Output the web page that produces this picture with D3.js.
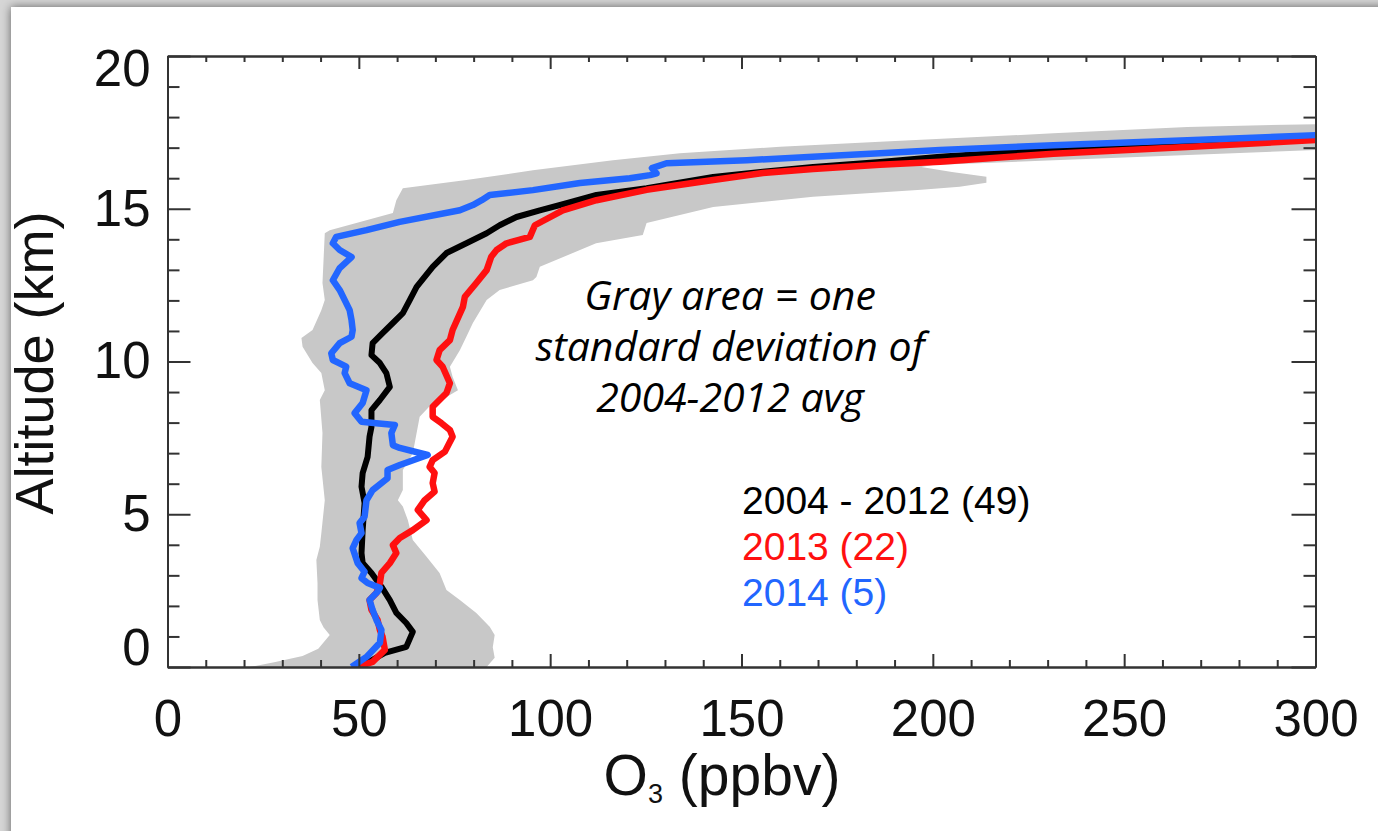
<!DOCTYPE html>
<html>
<head>
<meta charset="utf-8">
<script src="https://cdn.jsdelivr.net/npm/d3@7"></script>
<style>
  html, body { margin: 0; padding: 0; background: #d6d6d6; overflow: hidden; }
  #card {
    position: absolute; left: 11px; top: 7px; width: 1400px; height: 860px;
    background: #fff; box-shadow: 0 0 9px rgba(0,0,0,0.55);
  }
  svg { position: absolute; left: 0; top: 0; }
</style>
</head>
<body>
<div id="card"></div>
<svg id="chart" width="1378" height="831"></svg>
<script>
// Ozone profiles: [O3 (ppbv), altitude (km)]
const mean2004_2012 = [
  [50.2,0],[56.8,0.46],[62.4,0.66],[64.1,1.15],[62.4,1.44],[59.8,1.77],[58.1,2.19],
  [55.9,2.63],[53.3,3.08],[51.0,3.4],[50.7,3.73],[51.0,4.48],[51.5,5.37],[50.7,5.9],
  [51.0,6.35],[52.3,6.88],[52.8,7.54],[53.3,7.86],[53.3,8.41],[55.5,8.74],[58.1,9.17],
  [57.2,9.62],[55.5,9.95],[53.3,10.21],[53.6,10.6],[56.2,10.93],[58.9,11.26],[61.5,11.58],
  [63.3,12.01],[65.1,12.44],[69.3,13.1],[72.9,13.55],[78.1,13.87],[83.4,14.2],[86.8,14.46],
  [91.2,14.73],[97.3,14.95],[104.3,15.18],[112.1,15.45],[125.2,15.67],[142.6,16.04],
  [155.6,16.21],[168.7,16.37],[186.2,16.53],[201.9,16.7],[231.5,16.95],[266.5,17.16],[300,17.31]
];
const profile2013 = [
  [49.7,0],[53.6,0.17],[56.8,0.56],[56.2,0.99],[55.5,1.21],[54.9,1.54],[53.3,1.87],
  [52.8,2.19],[54.6,2.42],[55.5,2.75],[55.9,3.08],[58.1,3.4],[59.8,3.73],[58.9,3.99],
  [60.7,4.22],[64.1,4.48],[67.7,4.81],[65.4,5.14],[67.2,5.46],[69.8,5.74],[69.3,6.02],
  [69.8,6.35],[68.5,6.55],[69.3,6.77],[72.5,7.05],[74.5,7.54],[73.8,7.76],[71.6,7.98],
  [69.3,8.19],[69.3,8.52],[72.9,8.97],[73.8,9.29],[71.9,9.83],[70.3,10.05],[71.1,10.37],
  [73.8,10.7],[74.5,11.03],[77.2,11.79],[77.7,12.12],[80.7,12.57],[83.4,12.99],[84.6,13.43],
  [86.0,13.65],[88.6,13.87],[94.7,14.08],[96.0,14.46],[103.3,14.95],[112.1,15.28],
  [125.2,15.62],[142.6,15.94],[155.6,16.17],[168.7,16.3],[186.2,16.44],[201.9,16.54],
  [231.5,16.8],[266.5,17.02],[300,17.25]
];
const profile2014 = [
  [48.1,0],[52.0,0.33],[55.5,0.79],[55.9,1.21],[54.6,1.54],[53.6,1.87],[52.8,2.19],
  [54.9,2.46],[55.5,2.59],[52.3,2.75],[50.7,2.91],[51.5,3.12],[49.7,3.4],[48.4,3.89],
  [49.4,4.16],[50.7,4.38],[50.2,4.71],[51.5,4.92],[52.0,5.46],[53.6,5.79],[57.5,6.18],
  [57.5,6.45],[60.7,6.61],[68.0,6.94],[60.7,7.17],[58.9,7.26],[58.5,7.66],[59.4,7.92],
  [54.6,7.98],[50.7,8.03],[48.9,8.31],[51.0,8.64],[52.0,9.06],[47.6,9.29],[46.3,9.62],
  [46.7,9.83],[43.2,10.05],[42.8,10.27],[45.0,10.6],[48.1,10.81],[48.4,11.03],[48.1,11.35],
  [47.6,11.68],[46.7,11.91],[45.0,12.34],[43.2,12.66],[45.0,13.06],[48.1,13.42],[45.0,13.65],
  [43.2,13.87],[44.1,14.08],[52.0,14.3],[60.7,14.57],[76.4,14.95],[79.8,15.12],[82.1,15.28],
  [84.2,15.45],[95.5,15.61],[107.8,15.84],[120.8,16.0],[126.1,16.1],[127.8,16.16],
  [126.6,16.33],[130.4,16.49],[151.4,16.59],[168.7,16.7],[186.2,16.82],[201.9,16.92],
  [231.5,17.08],[266.5,17.24],[300,17.41]
];
// One standard deviation envelope of the 2004-2012 mean
const sdLower = [
  [21.4,0],[28.2,0.16],[35.3,0.36],[39.4,0.6],[42.4,1.05],[40.8,1.29],[39.8,1.54],
  [39.2,2.19],[39.2,2.75],[38.9,3.5],[39.8,3.94],[40.2,4.38],[41.1,5.46],[40.2,6.55],
  [40.5,7.66],[39.8,8.74],[41.1,9.06],[40.2,9.62],[37.9,9.95],[35.3,10.48],[35.0,10.77],
  [37.9,11.03],[40.2,11.68],[41.1,12.01],[40.5,12.57],[41.1,14.2],[42.4,14.3],[58.9,14.86],
  [59.8,15.28],[61.5,15.67],[78.1,15.94],[95.5,16.26],[116.4,16.59],[133.9,16.82],
  [160.1,17.03],[186.2,17.19],[231.5,17.47],[266.5,17.68],[300,17.77]
];
const sdUpper = [
  [83.4,0],[85.5,0.3],[85.0,0.65],[85.5,1.05],[84.2,1.32],[80.7,1.77],[76.4,2.19],
  [72.9,2.52],[71.1,3.08],[67.7,3.61],[64.1,4.16],[62.8,4.81],[61.5,5.25],[60.2,5.46],
  [61.5,5.79],[61.5,6.45],[64.1,7.0],[65.9,8.19],[69.3,8.64],[72.9,8.84],[75.9,9.06],
  [74.5,9.5],[73.8,9.83],[76.4,10.37],[78.1,10.81],[79.8,11.26],[83.4,12.01],[86.8,12.34],
  [95.5,12.66],[96.4,12.77],[97.3,13.1],[112.0,13.87],[124.2,14.14],[125.2,14.53],
  [142.6,15.06],[168.7,15.39],[197,15.62],[207,15.72],[214,15.85],[214,16.05],[205,16.2],
  [197,16.37],[200,16.43],[235,16.6],[265,16.75],[300,16.92]
];

const xMajor = [0, 50, 100, 150, 200, 250, 300];
const yMajor = [0, 5, 10, 15, 20];
const legendLabels = ["2004 - 2012 (49)", "2013 (22)", "2014 (5)"];
const noteLines = ["Gray area = one", "standard deviation of", "2004-2012 avg"];
const colors = { clim: "#000000", y2013: "#ff1010", y2014: "#2266ff", band: "#c8c8c8" };

const svg = d3.select("#chart");
const x = d3.scaleLinear().domain([0, 300]).range([167.5, 1315.5]);
const y = d3.scaleLinear().domain([0, 20]).range([667, 56]);
const xMinor = d3.range(0, 301, 10).filter(v => v % 50 !== 0);
const yMinor = d3.range(0, 21, 1).filter(v => v % 5 !== 0);

svg.append("clipPath").attr("id", "plotClip")
  .append("rect").attr("x", x(0)).attr("y", y(20))
  .attr("width", x(300) - x(0)).attr("height", y(0) - y(20));

const plot = svg.append("g").attr("clip-path", "url(#plotClip)");

// envelope polygon: up the lower bound, back down the upper bound
const bandPts = sdLower.concat(sdUpper.slice().reverse());
plot.append("path")
  .attr("d", d3.line().x(d => x(d[0])).y(d => y(d[1]))(bandPts) + "Z")
  .attr("fill", colors.band);

const line = d3.line().x(d => x(d[0])).y(d => y(d[1]));
[[mean2004_2012, colors.clim, 6], [profile2013, colors.y2013, 6.5], [profile2014, colors.y2014, 6.5]]
  .forEach(([data, c, w]) => {
    plot.append("path").attr("d", line(data)).attr("fill", "none")
      .attr("stroke", c).attr("stroke-width", w)
      .attr("stroke-linejoin", "round").attr("stroke-linecap", "butt");
  });

// axes: ticks point inward on all four sides
const axisColor = "#333";
function styleAxis(g) {
  g.selectAll("path.domain").attr("stroke", axisColor).attr("stroke-width", 2);
  g.selectAll(".tick line").attr("stroke", axisColor).attr("stroke-width", 2);
  g.selectAll("text").attr("fill", "#111")
    .style("font-family", "'Liberation Sans', Arial, sans-serif").style("font-size", "51px");
}
function addAxis(axisFn, scale, transform, major, minor, majorLen, minorLen, labels, pad) {
  svg.append("g").attr("transform", transform)
    .call(axisFn(scale).tickValues(minor).tickSize(-minorLen).tickSizeOuter(0).tickFormat(""))
    .call(styleAxis);
  return svg.append("g").attr("transform", transform)
    .call(axisFn(scale).tickValues(major).tickSize(-majorLen).tickSizeOuter(0)
      .tickPadding(pad).tickFormat(labels ? d3.format("d") : ""))
    .call(styleAxis);
}
addAxis(d3.axisBottom, x, `translate(0,${y(0)})`, xMajor, xMinor, 13, 7, true, 33);
addAxis(d3.axisTop, x, `translate(0,${y(20)})`, xMajor, xMinor, 13, 6, false, 0);
const yLeft = addAxis(d3.axisLeft, y, `translate(${x(0)},0)`, yMajor, yMinor, 23, 12, true, 17);
addAxis(d3.axisRight, y, `translate(${x(300)},0)`, yMajor, yMinor, 24, 12, false, 0);

// end labels of the altitude axis sit inside the frame
yLeft.selectAll(".tick text").attr("transform", d => d === 20 ? "translate(0,13)" : d === 0 ? "translate(0,-19)" : null);

// axis titles
const titleFont = "'Liberation Sans', Arial, sans-serif";
svg.append("text")
  .attr("transform", `translate(53,363) rotate(-90)`)
  .attr("text-anchor", "middle").attr("fill", "#111")
  .style("font-family", titleFont).style("font-size", "54px")
  .text("Altitude (km)");

const xt = svg.append("text").attr("x", 722).attr("y", 795)
  .attr("text-anchor", "middle").attr("fill", "#111")
  .style("font-family", titleFont).style("font-size", "57px");
xt.append("tspan").text("O");
xt.append("tspan").attr("dy", 8).style("font-size", "27px").text("3");
xt.append("tspan").attr("dy", -8).text(" (ppbv)");

// note
svg.append("g").selectAll("text").data(noteLines).join("text")
  .attr("x", 730).attr("y", (d, i) => 310 + i * 51)
  .attr("text-anchor", "middle").attr("fill", "#000")
  .style("font-family", "'Open Sans', sans-serif").style("font-style", "italic")
  .style("font-size", "41px").text(d => d);

// legend
const legendColors = [colors.clim, colors.y2013, colors.y2014];
svg.append("g").selectAll("text").data(legendLabels).join("text")
  .attr("x", 742).attr("y", (d, i) => 514 + i * 46)
  .attr("fill", (d, i) => legendColors[i])
  .style("font-family", titleFont).style("font-size", "39px").text(d => d);
</script>
</body>
</html>
